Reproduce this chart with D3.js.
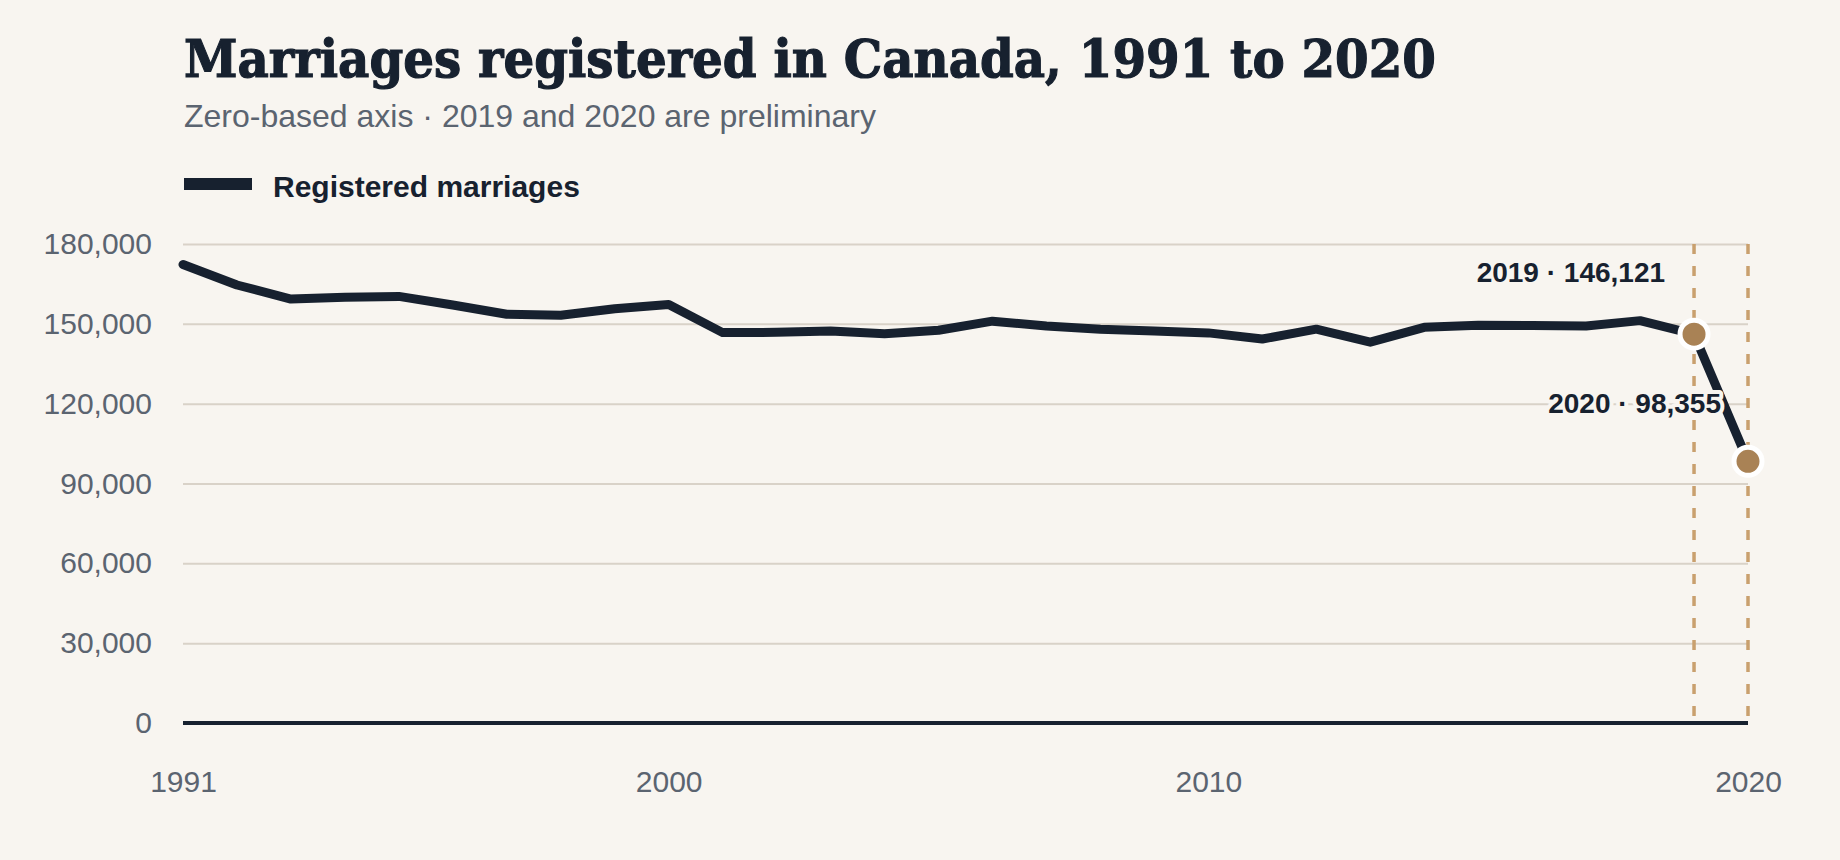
<!DOCTYPE html>
<html>
<head>
<meta charset="utf-8">
<script src="https://cdn.jsdelivr.net/npm/d3@7"></script>
<style>
  html, body { margin: 0; padding: 0; background: #f8f5f0; }
  svg { display: block; }
</style>
</head>
<body>
<div id="chart"></div>
<script>
// data
const years = [1991, 1992, 1993, 1994, 1995, 1996, 1997, 1998, 1999, 2000,
  2001, 2002, 2003, 2004, 2005, 2006, 2007, 2008, 2009, 2010,
  2011, 2012, 2013, 2014, 2015, 2016, 2017, 2018, 2019, 2020];
const marriages = [172300, 164600, 159300, 160000, 160300, 157100, 153600, 153200, 155700, 157300,
  146700, 146800, 147300, 146300, 147600, 151000, 149200, 148000, 147300, 146600,
  144300, 148000, 143100, 148700, 149500, 149400, 149200, 151200, 146121, 98355];
const yTicks = [0, 30000, 60000, 90000, 120000, 150000, 180000];
const xTicks = [1991, 2000, 2010, 2020];
const highlights = [
  {year: 2019, value: 146121, label: "2019 · 146,121", dx: -29, dy: -52},
  {year: 2020, value: 98355, label: "2020 · 98,355", dx: -27, dy: -48}
];

let width = 1840, height = 860;
let margin = {left: 183, right: 92, top: 244, bottom: 137};
let bodyWidth = width - margin.left - margin.right;
let bodyHeight = height - margin.top - margin.bottom;

const sans = "'Liberation Sans', Arial, Helvetica, sans-serif";
const ink = "#17212f";
const grey = "#5b6470";

let svg = d3.select("#chart").append("svg")
  .attr("width", width)
  .attr("height", height)
  .style("background", "#f8f5f0");

// title block
let title = svg.append("text")
  .attr("x", 184).attr("y", 77)
  .attr("font-family", "'DejaVu Serif', Georgia, serif")
  .attr("font-weight", 700)
  .attr("font-size", 53)
  .attr("fill", ink)
  .attr("stroke", ink)
  .attr("stroke-width", 1.2)
  .text("Marriages registered in Canada, 1991 to 2020");
if (title.node().getComputedTextLength() > 1252) {
  title.attr("textLength", 1252).attr("lengthAdjust", "spacingAndGlyphs");
}

svg.append("text")
  .attr("x", 184).attr("y", 127)
  .attr("font-family", sans)
  .attr("font-size", 32)
  .attr("fill", grey)
  .text("Zero-based axis · 2019 and 2020 are preliminary");

// legend
svg.append("rect")
  .attr("x", 184).attr("y", 178)
  .attr("width", 68).attr("height", 12)
  .attr("fill", ink);
svg.append("text")
  .attr("x", 273).attr("y", 197)
  .attr("font-family", sans)
  .attr("font-weight", 700)
  .attr("font-size", 30)
  .attr("fill", ink)
  .text("Registered marriages");

let x = d3.scaleLinear()
  .domain([1991, 2020])
  .range([0, bodyWidth]);
let y = d3.scaleLinear()
  .domain([0, 180000])
  .range([bodyHeight, 0]);

let body = svg.append("g")
  .attr("transform", `translate(${margin.left},${margin.top})`);

// y axis + gridlines
let yAxis = body.append("g")
  .call(d3.axisLeft(y).tickValues(yTicks).tickFormat(d3.format(",")).tickSize(-bodyWidth).tickPadding(31));
yAxis.select(".domain").remove();
yAxis.selectAll(".tick line").attr("stroke", "#d9d2c8").attr("stroke-width", 2);
yAxis.selectAll(".tick text")
  .attr("x", -31)
  .attr("font-family", sans).attr("font-size", 30).attr("fill", grey);

// x axis
let xAxis = body.append("g")
  .attr("transform", `translate(0,${bodyHeight})`)
  .call(d3.axisBottom(x).tickValues(xTicks).tickFormat(d3.format("d")).tickSize(0).tickPadding(48));
xAxis.select(".domain").remove();
xAxis.selectAll(".tick text")
  .attr("font-family", sans).attr("font-size", 30).attr("fill", grey);

// zero baseline
body.append("line")
  .attr("x1", x(1991)).attr("x2", x(2020))
  .attr("y1", y(0)).attr("y2", y(0))
  .attr("stroke", ink).attr("stroke-width", 4);

// dashed markers for preliminary years
body.selectAll(".prelim")
  .data(highlights)
  .enter().append("line")
  .attr("class", "prelim")
  .attr("x1", d => x(d.year)).attr("x2", d => x(d.year))
  .attr("y1", y(180000)).attr("y2", y(0) - 4)
  .attr("stroke", "#c9a06e")
  .attr("stroke-width", 3.5)
  .attr("stroke-dasharray", "10,12");

// main line
let line = d3.line()
  .x((d, i) => x(years[i]))
  .y(d => y(d));

body.append("path")
  .datum(marriages)
  .attr("d", line)
  .attr("fill", "none")
  .attr("stroke", ink)
  .attr("stroke-width", 9)
  .attr("stroke-linejoin", "round")
  .attr("stroke-linecap", "round");

// highlighted points
body.selectAll(".dot")
  .data(highlights)
  .enter().append("circle")
  .attr("class", "dot")
  .attr("cx", d => x(d.year))
  .attr("cy", d => y(d.value))
  .attr("r", 14)
  .attr("fill", "#a98255")
  .attr("stroke", "#ffffff")
  .attr("stroke-width", 5);

body.selectAll(".note")
  .data(highlights)
  .enter().append("text")
  .attr("class", "note")
  .attr("x", d => x(d.year) + d.dx)
  .attr("y", d => y(d.value) + d.dy)
  .attr("text-anchor", "end")
  .attr("font-family", sans)
  .attr("font-weight", 700)
  .attr("font-size", 28)
  .attr("fill", ink)
  .attr("stroke", "#f8f5f0")
  .attr("stroke-width", 8)
  .attr("stroke-linejoin", "round")
  .attr("paint-order", "stroke")
  .text(d => d.label);
</script>
</body>
</html>
